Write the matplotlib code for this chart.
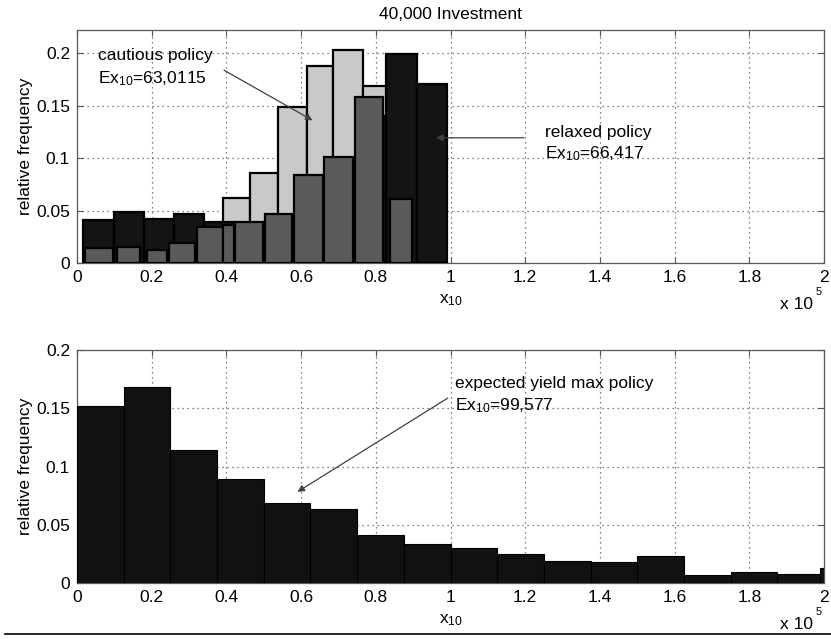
import matplotlib
matplotlib.use('Agg')
import matplotlib.pyplot as plt
from matplotlib.lines import Line2D
import numpy as np

plt.rcParams['font.family'] = ['Liberation Sans', 'DejaVu Sans']
plt.rcParams['mathtext.fontset'] = 'custom'
plt.rcParams['mathtext.rm'] = 'Liberation Sans'
plt.rcParams['mathtext.it'] = 'Liberation Sans'
plt.rcParams['font.size'] = 12.5

# --- top panel: x10 in units of 1e5 ---
# relaxed policy (black)
relaxed_edges = [0.017, 0.098, 0.179, 0.260, 0.341, 0.422, 0.503,
                 0.584, 0.666, 0.747, 0.828, 0.909, 0.990]
relaxed_freq = [0.041, 0.049, 0.042, 0.047, 0.039, 0.034,
                0.040, 0.070, 0.090, 0.140, 0.199, 0.171]

# cautious policy (light gray), visible bins
cautious_edges = [0.392, 0.463, 0.539, 0.615, 0.686, 0.765, 0.840]
cautious_freq = [0.0616, 0.086, 0.149, 0.1876, 0.2029, 0.1686]

# dark gray bars drawn in front
dark_left = [0.021, 0.106, 0.187, 0.245, 0.320, 0.392, 0.423,
             0.503, 0.580, 0.660, 0.744, 0.838]
dark_right = [0.095, 0.169, 0.240, 0.316, 0.390, 0.420, 0.498,
              0.575, 0.658, 0.740, 0.820, 0.896]
dark_freq = [0.014, 0.0155, 0.0124, 0.019, 0.034, 0.036, 0.039,
             0.047, 0.084, 0.101, 0.158, 0.061]

# --- bottom panel: expected yield max policy ---
max_edges = [0.0, 0.125, 0.25, 0.375, 0.5, 0.625, 0.75, 0.875, 1.0,
             1.125, 1.25, 1.375, 1.5, 1.625, 1.75, 1.875, 1.99, 2.115]
max_freq = [0.152, 0.168, 0.1138, 0.0894, 0.0688, 0.0639, 0.041, 0.0332,
            0.0304, 0.0252, 0.0189, 0.0178, 0.0235, 0.0066, 0.0097, 0.0074,
            0.0132]

xticks = [0, 0.2, 0.4, 0.6, 0.8, 1.0, 1.2, 1.4, 1.6, 1.8, 2.0]
xticklabels = ['0', '0.2', '0.4', '0.6', '0.8', '1', '1.2', '1.4', '1.6', '1.8', '2']
yticks = [0, 0.05, 0.1, 0.15, 0.2]
yticklabels = ['0', '0.05', '0.1', '0.15', '0.2']


def bars(ax, left, right, freq, color, z, lw=1.6):
    left = np.asarray(left)
    width = np.asarray(right) - left
    ax.bar(left, freq, width=width, align='edge', color=color,
           edgecolor='black', linewidth=lw, zorder=z)


def style(ax, ymax):
    ax.set_xlim(0, 2)
    ax.set_ylim(0, ymax)
    ax.set_xticks(xticks)
    ax.set_xticklabels(xticklabels)
    ax.set_yticks(yticks)
    ax.set_yticklabels(yticklabels)
    ax.tick_params(direction='in', top=True, right=True, length=4,
                   color='0.35', pad=5)
    ax.grid(True, linestyle=(0, (1, 3)), color='0.35', linewidth=0.9)
    ax.set_axisbelow(True)
    for s in ax.spines.values():
        s.set_color('0.35')
        s.set_linewidth(0.9)
    ax.set_ylabel('relative frequency', labelpad=2)
    ax.text(0.5, -0.16, 'x$_{10}$', transform=ax.transAxes,
            ha='center', va='center')
    ax.text(0.985, -0.18, 'x 10', transform=ax.transAxes,
            ha='right', va='center')
    ax.text(0.993, -0.125, '5', transform=ax.transAxes,
            ha='center', va='center', fontsize=8)


fig = plt.figure(figsize=(8.31, 6.39), dpi=100)
ax1 = fig.add_axes([0.0927, 0.5884, 0.8989, 0.3647])
ax2 = fig.add_axes([0.0927, 0.0876, 0.8989, 0.3647])

bars(ax1, cautious_edges[:-1], cautious_edges[1:], cautious_freq, '#c9c9c9', 2)
bars(ax1, relaxed_edges[:-1], relaxed_edges[1:], relaxed_freq, '#141414', 3)
bars(ax1, dark_left, dark_right, dark_freq, '#5a5a5a', 4)
style(ax1, 0.222)
ax1.set_title('40,000 Investment', fontsize=12.5, pad=8)

ax1.annotate('', xy=(0.637, 0.1346), xytext=(0.387, 0.185),
             arrowprops=dict(arrowstyle='-|>', color='0.25', lw=0.9,
                             mutation_scale=10), zorder=6)
ax1.text(0.057, 0.198, 'cautious policy', ha='left', va='center', zorder=7)
ax1.text(0.057, 0.176, 'Ex$_{10}$=63,0115', ha='left', va='center', zorder=7)

ax1.annotate('', xy=(0.954, 0.1193), xytext=(1.204, 0.1193),
             arrowprops=dict(arrowstyle='-|>', color='0.25', lw=0.9,
                             mutation_scale=10), zorder=6)
ax1.text(1.253, 0.1245, 'relaxed policy', ha='left', va='center', zorder=7)
ax1.text(1.253, 0.1045, 'Ex$_{10}$=66,417', ha='left', va='center', zorder=7)

bars(ax2, max_edges[:-1], max_edges[1:], max_freq, '#111111', 3, lw=0.8)
style(ax2, 0.2)
ax2.annotate('', xy=(0.584, 0.077), xytext=(0.999, 0.16),
             arrowprops=dict(arrowstyle='-|>', color='0.25', lw=0.9,
                             mutation_scale=10), zorder=6)
ax2.text(1.012, 0.171, 'expected yield max policy', ha='left', va='center', zorder=7)
ax2.text(1.012, 0.152, 'Ex$_{10}$=99,577', ha='left', va='center', zorder=7)

fig.add_artist(Line2D([0.006, 1.0], [0.0078, 0.0078], color='black', lw=1.2,
                      transform=fig.transFigure))

fig.savefig('out.png', dpi=100)
